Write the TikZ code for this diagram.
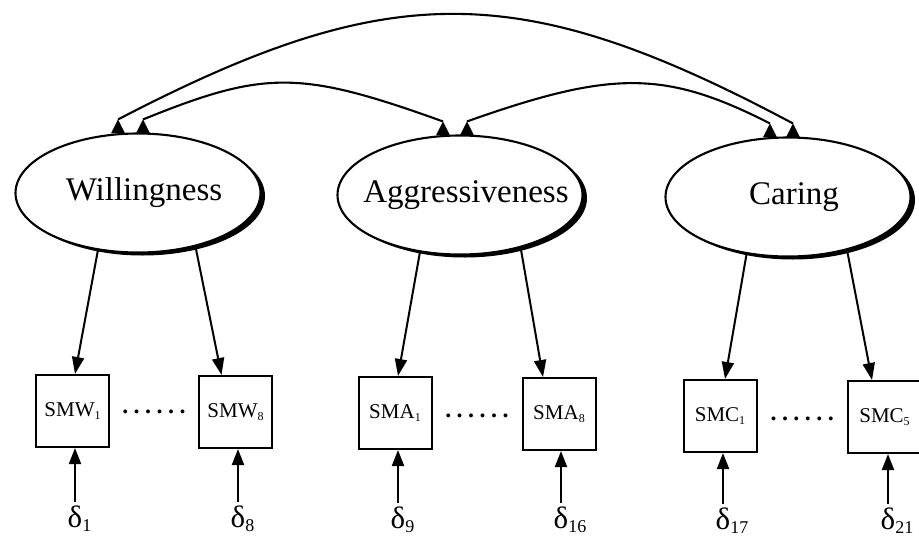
\documentclass[tikz,border=0pt]{standalone}
\usepackage{fontspec}
\setmainfont{Liberation Serif}
\usetikzlibrary{shapes.geometric,arrows.meta,shadows,calc}

% factor name kept narrow so the ellipse keeps its own size
\newcommand{\factorname}[1]{\makebox[0pt]{\hspace*{12pt}#1}}
% item label with a small lowered index
\newcommand{\itemlab}[2]{#1\raisebox{-2.5pt}{\fontsize{12}{12}\selectfont #2}}
% error term: delta with its index hanging to the right
\newcommand{\errlab}[1]{δ\rlap{\raisebox{-4pt}{\fontsize{18}{18}\selectfont #1}}}
% row of six dots between the first and last item
\newcommand{\sixdots}{.\kern5.5pt.\kern5.5pt.\kern5.5pt.\kern5.5pt.\kern5.5pt.}

\tikzset{
  latent/.style={ellipse, draw, line width=2.1pt, fill=white,
    minimum width=245pt, minimum height=119pt, inner sep=0pt,
    font=\fontsize{33}{36}\selectfont,
    drop shadow={shadow xshift=4.5pt, shadow yshift=-3pt, fill=black, opacity=1}},
  indicator/.style={rectangle, draw, line width=2pt, fill=white,
    minimum width=73pt, minimum height=72pt, inner sep=0pt,
    font=\fontsize{21}{24}\selectfont},
  errnode/.style={inner sep=0pt, anchor=base, font=\fontsize{31}{32}\selectfont},
  dotrow/.style={inner sep=0pt, anchor=base, font=\fontsize{24}{24}\selectfont\bfseries},
  load/.style={line width=2pt, -{Triangle[length=17pt,width=12pt]}},
  errpath/.style={line width=2pt, -{Triangle[length=16pt,width=12pt]}},
  cov/.style={line width=2.1pt},
  tipmark/.pic={\fill (0,0) -- (-7,14) -- (7,14) -- cycle;}
}

\begin{document}
\begin{tikzpicture}[x=1pt,y=-1pt]
\useasboundingbox (0,0) rectangle (919,544);

% latent factors
\node[latent] (W) at (138,193) {\factorname{Willingness}};
\node[latent] (A) at (460,195) {\factorname{Aggressiveness}};
\node[latent] (C) at (788,197) {\factorname{Caring}};

% observed items
\node[indicator] (b1) at (72.5,411) {\itemlab{SMW}{1}};
\node[indicator] (b2) at (235.5,412) {\itemlab{SMW}{8}};
\node[indicator] (b3) at (395,413) {\itemlab{SMA}{1}};
\node[indicator] (b4) at (559,414) {\itemlab{SMA}{8}};
\node[indicator] (b5) at (720,416) {\itemlab{SMC}{1}};
\node[indicator] (b6) at (884.5,417) {\itemlab{SMC}{5}};

% dots standing for the items in between
\node[dotrow] (r1) at ($(b1.east)!0.5!(b2.west)+(0,2)$) {\sixdots};
\node[dotrow] (r2) at ($(b3.east)!0.5!(b4.west)+(0,4)$) {\sixdots};
\node[dotrow] (r3) at ($(b5.east)!0.5!(b6.west)+(0,4)$) {\sixdots};

% error terms
\node[errnode] (d1) at (75,527) {\errlab{1}};
\node[errnode] (d2) at (238,527) {\errlab{8}};
\node[errnode] (d3) at (398,528) {\errlab{9}};
\node[errnode] (d4) at (561,528) {\errlab{16}};
\node[errnode] (d5) at (723,529) {\errlab{17}};
\node[errnode] (d6) at (888,529) {\errlab{21}};

% loadings
\draw[load] (W.235) -- ([xshift=2.5pt]b1.north);
\draw[load] (W.317) -- ([xshift=-14pt]b2.north);
\draw[load] (A.235) -- ([xshift=3pt]b3.north);
\draw[load] (A.319) -- ([xshift=-16pt]b4.north);
\draw[load] (C.234) -- ([xshift=5pt]b5.north);
\draw[load] (C.318) -- ([xshift=-12.5pt]b6.north);

% errors into the items
\foreach \i in {1,...,6}
  \draw[errpath] ([yshift=3pt]d\i.north) -- (d\i.north |- b\i.south);

% ends of the correlation arcs, resting on the factors
\coordinate (wL) at ([xshift=-20pt,yshift=13pt]W.north);
\coordinate (wR) at ([xshift=5pt,yshift=13pt]W.north);
\coordinate (aL) at ([xshift=-17pt,yshift=13pt]A.north);
\coordinate (aR) at ([xshift=7pt,yshift=13pt]A.north);
\coordinate (cL) at ([xshift=-18pt,yshift=13pt]C.north);
\coordinate (cR) at ([xshift=5pt,yshift=13pt]C.north);
\foreach \p in {wL,wR,aL,aR,cL,cR}
  \pic at (\p) {tipmark};

% factor correlations
\draw[cov] (wL) .. controls (390,-22) and (520,-22) .. (cR);
\draw[cov] (wR) .. controls (265,70) and (300,70) .. (aL);
\draw[cov] (aR) .. controls (612,70) and (665,70) .. (cL);
\end{tikzpicture}
\end{document}
